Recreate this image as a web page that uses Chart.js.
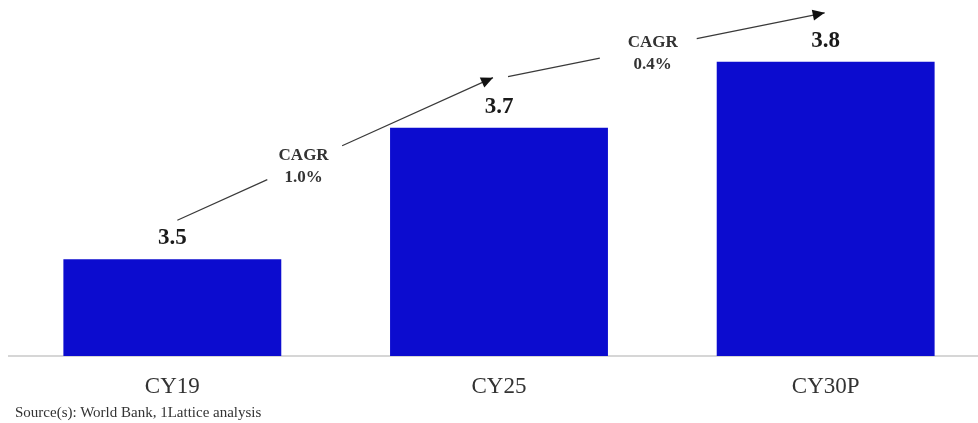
<!DOCTYPE html>
<html lang="en">
  <head>
    <meta charset="UTF-8" />
    <title>CY19 - CY30P</title>
    <script src="https://cdn.jsdelivr.net/npm/chart.js"></script>
    <style>
      html,
      body {
        margin: 0;
        padding: 0;
        background: #fff;
        overflow: hidden;
      }
      #wrap {
        position: relative;
        width: 978px;
        height: 423px;
        overflow: hidden;
      }
      #chart {
        position: absolute;
        left: 0;
        top: 0;
      }
      #source {
        position: absolute;
        left: 15px;
        top: 404px;
        font: 15px "Liberation Serif", "Times New Roman", serif;
        color: #333;
        white-space: nowrap;
      }
    </style>
  </head>
  <body>
    <div id="wrap">
      <canvas id="chart" width="990" height="423"></canvas>
      <div id="source">Source(s): World Bank, 1Lattice analysis</div>
    </div>

    <script>
      const LABELS = ["CY19", "CY25", "CY30P"];
      const VALUES = [3.5, 3.7, 3.8];
      const CAGR = ["1.0%", "0.4%"];

      const SERIF = "'Liberation Serif', 'Times New Roman', serif";

      // arrows between neighbouring bars; offsets are in pixels from the bar tops
      const ARROWS = [
        { from: 0, to: 1, start: [5, -39], end: [-6, -50], gap: [0.285, 0.522], t: 0.4, dy: 3 },
        { from: 1, to: 2, start: [9, -51], end: [-1, -49], gap: [0.29, 0.596], t: 0.457, dy: 6 },
      ];

      const valueLabels = {
        id: "valueLabels",
        afterDatasetsDraw(chart) {
          const ctx = chart.ctx;
          const bars = chart.getDatasetMeta(0).data;
          ctx.save();
          ctx.font = "bold 23px " + SERIF;
          ctx.fillStyle = "#1a1a1a";
          ctx.textAlign = "center";
          ctx.textBaseline = "middle";
          bars.forEach((bar, i) => {
            ctx.fillText(VALUES[i].toFixed(1), bar.x, bar.y - 21);
          });
          ctx.restore();
        },
      };

      const cagrArrows = {
        id: "cagrArrows",
        afterDatasetsDraw(chart) {
          const ctx = chart.ctx;
          const bars = chart.getDatasetMeta(0).data;
          ctx.save();
          ARROWS.forEach((a, i) => {
            const b0 = bars[a.from];
            const b1 = bars[a.to];
            const x0 = b0.x + a.start[0];
            const y0 = b0.y + a.start[1];
            const x1 = b1.x + a.end[0];
            const y1 = b1.y + a.end[1];
            const at = (t) => [x0 + (x1 - x0) * t, y0 + (y1 - y0) * t];

            ctx.strokeStyle = "#3a3a3a";
            ctx.lineWidth = 1.2;
            const g0 = at(a.gap[0]);
            const g1 = at(a.gap[1]);
            ctx.beginPath();
            ctx.moveTo(x0, y0);
            ctx.lineTo(g0[0], g0[1]);
            ctx.moveTo(g1[0], g1[1]);
            ctx.lineTo(x1, y1);
            ctx.stroke();

            // arrow head
            const ang = Math.atan2(y1 - y0, x1 - x0);
            const len = 12;
            const half = 5.5;
            ctx.fillStyle = "#111";
            ctx.beginPath();
            ctx.moveTo(x1, y1);
            ctx.lineTo(
              x1 - len * Math.cos(ang) + half * Math.sin(ang),
              y1 - len * Math.sin(ang) - half * Math.cos(ang)
            );
            ctx.lineTo(
              x1 - len * Math.cos(ang) - half * Math.sin(ang),
              y1 - len * Math.sin(ang) + half * Math.cos(ang)
            );
            ctx.closePath();
            ctx.fill();

            // CAGR text
            const c = at(a.t);
            ctx.font = "bold 17px " + SERIF;
            ctx.fillStyle = "#333";
            ctx.textAlign = "center";
            ctx.textBaseline = "middle";
            ctx.fillText("CAGR", c[0], c[1] + a.dy - 11);
            ctx.fillText(CAGR[i], c[0], c[1] + a.dy + 11);
          });
          ctx.restore();
        },
      };

      const ctx = document.getElementById("chart").getContext("2d");
      const chart = new Chart(ctx, {
        type: "bar",
        data: {
          labels: LABELS,
          datasets: [
            {
              data: VALUES,
              backgroundColor: "#0c0ccf",
              borderWidth: 0,
              categoryPercentage: 1,
              barPercentage: 0.667,
            },
          ],
        },
        options: {
          responsive: false,
          animation: false,
          events: [],
          layout: { padding: { left: 9, right: 1, top: 0, bottom: 0 } },
          plugins: {
            legend: { display: false },
            tooltip: { enabled: false },
          },
          scales: {
            x: {
              grid: { display: false, drawTicks: false },
              border: { display: true, color: "#d6d6d6", width: 2 },
              ticks: {
                color: "#333",
                padding: 17,
                font: { family: SERIF, size: 23 },
              },
              afterFit(scale) {
                scale.height = 67;
              },
            },
            y: {
              display: false,
              min: 3.353,
              max: 3.894,
            },
          },
        },
        plugins: [valueLabels, cagrArrows],
      });
    </script>
  </body>
</html>
